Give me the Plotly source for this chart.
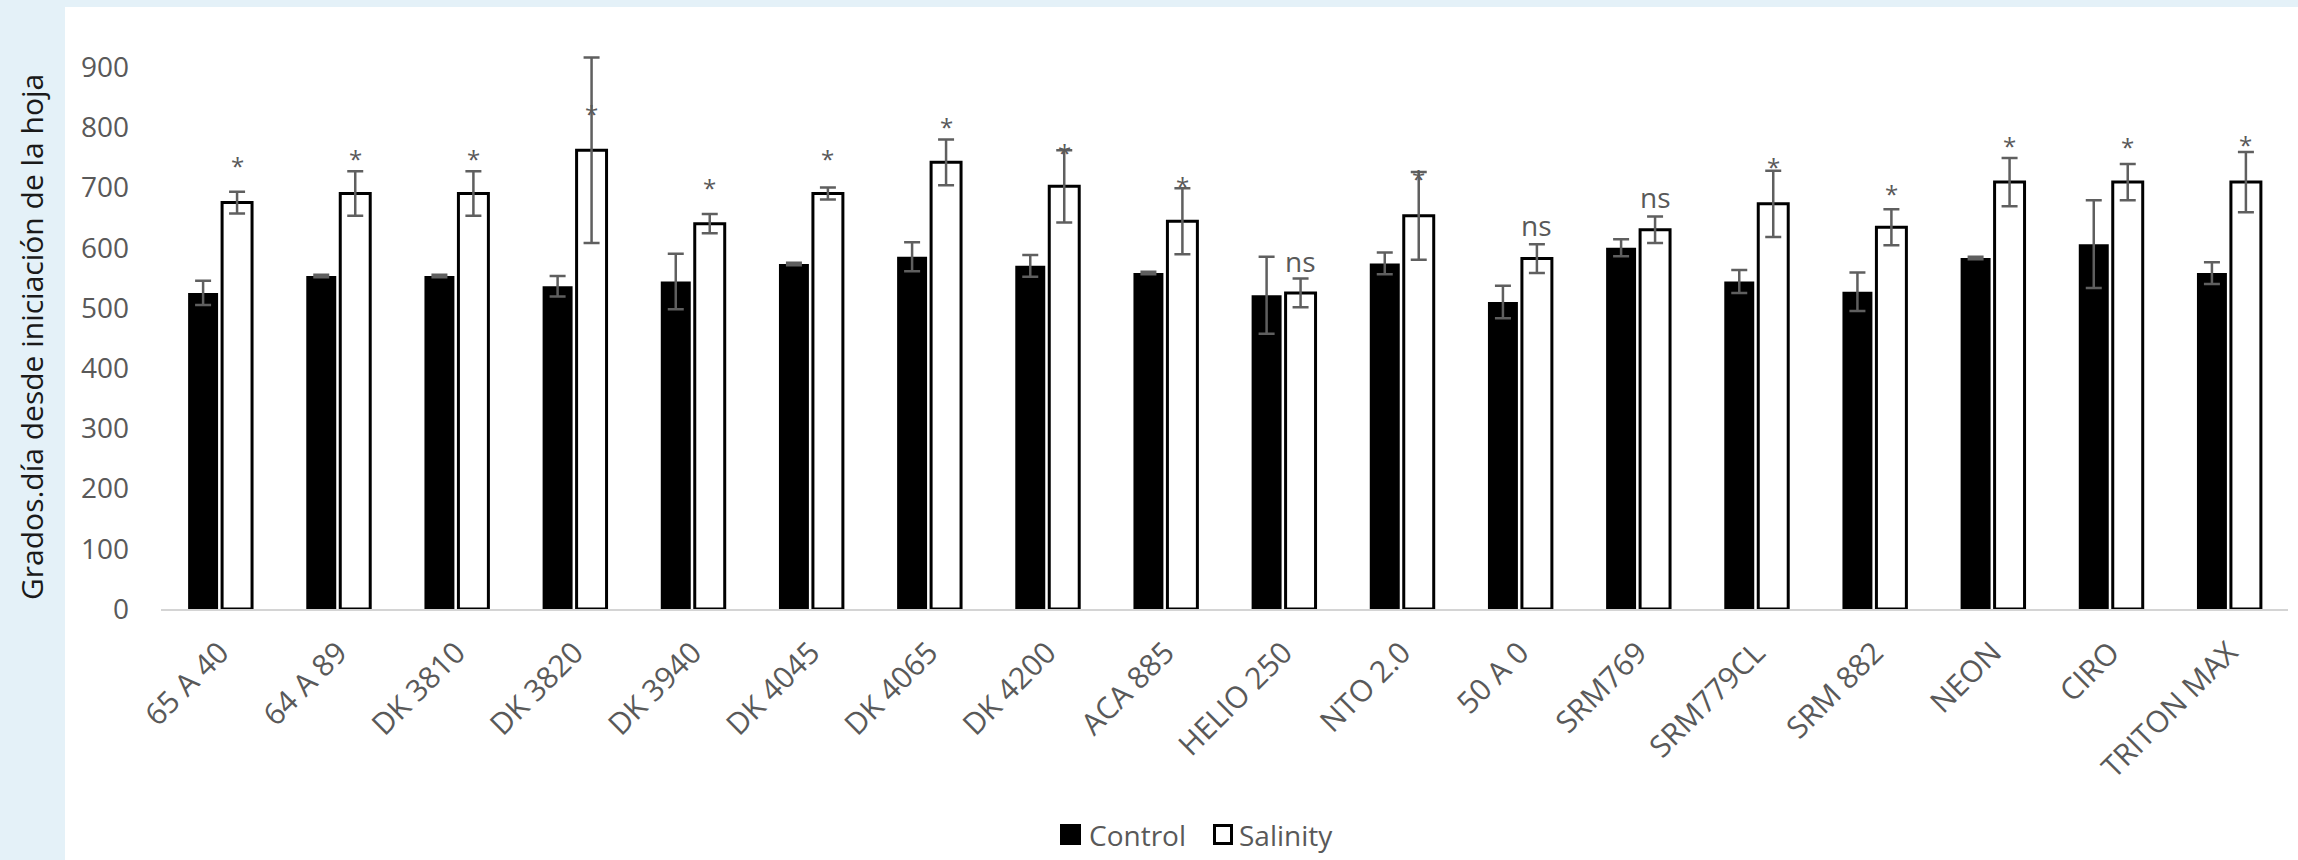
import plotly.graph_objects as go

categories = ["65 A 40", "64 A 89", "DK 3810", "DK 3820", "DK 3940", "DK 4045",
              "DK 4065", "DK 4200", "ACA 885", "HELIO 250", "NTO 2.0", "50 A 0",
              "SRM769", "SRM779CL", "SRM 882", "NEON", "CIRO", "TRITON MAX"]
control = [525, 553, 553, 536, 544, 573, 585, 570, 558, 521, 574, 510, 600, 544, 527, 583, 606, 558]
control_err = [20, 2, 2, 17, 46, 2, 24, 18, 2, 64, 18, 27, 14, 19, 32, 2, 73, 18]
salinity = [675, 690, 690, 762, 640, 690, 742, 702, 644, 525, 653, 582, 630, 673, 634, 709, 709, 709]
salinity_err = [18, 37, 37, 154, 16, 10, 38, 60, 55, 24, 73, 24, 22, 55, 30, 40, 30, 50]
sig_labels = ["*", "*", "*", "*", "*", "*", "*", "*", "*", "ns", "*", "ns", "ns", "*", "*", "*", "*", "*"]
sig_height = [745, 756, 756, 832, 709, 756, 809, 766, 711, 578, 724, 637, 685, 744, 699, 778, 776, 779]
y_ticks = [0, 100, 200, 300, 400, 500, 600, 700, 800, 900]
series_names = ["Control", "Salinity"]

FONT = "Open Sans, Noto Sans, sans-serif"
GRAY = "#595959"
ERR = "#5f5f5f"
PAGE_BG = "#E4F1F8"

W, H = 2298, 860
L, R, T, B = 161, 2288, 31, 609   # plot-area edges in pixels


def px(x):
    return (x - L) / (R - L)


def py(y):
    return (B - y) / (B - T)


fig = go.Figure()
fig.add_trace(go.Bar(
    name=series_names[0], x=categories, y=control, showlegend=False,
    marker=dict(color="black", line=dict(color="black", width=0)),
    error_y=dict(type="data", array=control_err, visible=True, color=ERR, thickness=2.5, width=8),
))
fig.add_trace(go.Bar(
    name=series_names[1], x=categories, y=salinity, showlegend=False,
    marker=dict(color="white", line=dict(color="black", width=3)),
    error_y=dict(type="data", array=salinity_err, visible=True, color=ERR, thickness=2.5, width=8),
))

# significance labels above the Salinity bars
for i, (lab, h) in enumerate(zip(sig_labels, sig_height)):
    fig.add_annotation(
        x=categories[i], y=h, xref="x", yref="y", text=lab, showarrow=False,
        xshift=17, yshift=-5 if lab == "*" else 0,
        font=dict(family=FONT, size=24 if lab == "*" else 28, color=GRAY),
        xanchor="center", yanchor="middle",
    )

# y-axis title
fig.add_annotation(
    x=px(31), y=py(337), xref="paper", yref="paper",
    text="Grados.día desde iniciación de la hoja", showarrow=False, textangle=-90,
    font=dict(family=FONT, size=30, color="#1a1a1a"), xanchor="center", yanchor="middle",
)

# white chart panel over the light-blue page
fig.add_shape(type="rect", xref="paper", yref="paper", x0=px(65), x1=px(W + 20), y0=py(H + 20), y1=py(7),
              fillcolor="white", line=dict(width=0), layer="below")

# legend (drawn by hand so the keys have the reference's size)
fig.add_shape(type="rect", xref="paper", yref="paper", x0=px(1060), x1=px(1081), y0=py(845), y1=py(824),
              fillcolor="black", line=dict(width=0))
fig.add_annotation(x=px(1087), y=py(835), xref="paper", yref="paper", text=series_names[0],
                   showarrow=False, xanchor="left", yanchor="middle",
                   font=dict(family=FONT, size=28, color=GRAY))
fig.add_shape(type="rect", xref="paper", yref="paper", x0=px(1214.5), x1=px(1231.5), y0=py(843.5), y1=py(825.5),
              fillcolor="white", line=dict(color="black", width=3))
fig.add_annotation(x=px(1237), y=py(835), xref="paper", yref="paper", text=series_names[1],
                   showarrow=False, xanchor="left", yanchor="middle",
                   font=dict(family=FONT, size=28, color=GRAY))

fig.update_layout(
    width=W, height=H, autosize=False,
    margin=dict(l=L, r=W - R, t=T, b=H - B, autoexpand=False),
    paper_bgcolor=PAGE_BG, plot_bgcolor="white",
    barmode="group", bargap=0.425, bargroupgap=0.118,
    showlegend=False,
    font=dict(family=FONT, color=GRAY),
)
fig.update_xaxes(
    tickangle=-45, tickfont=dict(family=FONT, size=30, color=GRAY),
    showline=True, linecolor="#d4d4d4", linewidth=2, showgrid=False, ticks="",
    zeroline=False, automargin=False, ticklabelstandoff=12,
)
fig.update_yaxes(
    range=[0, 960], tickvals=y_ticks, ticktext=[str(v) for v in y_ticks],
    tickfont=dict(family=FONT, size=28, color=GRAY), showgrid=False, showline=False,
    zeroline=False, ticks="", ticklabelstandoff=31, automargin=False,
)

# place the figure flush with the page's top-left corner (no default body margin)
fig.write_html(
    "out.html",
    config={"displayModeBar": False},
    post_script="document.body.style.margin='0px'; document.body.style.background='%s';" % PAGE_BG,
)
